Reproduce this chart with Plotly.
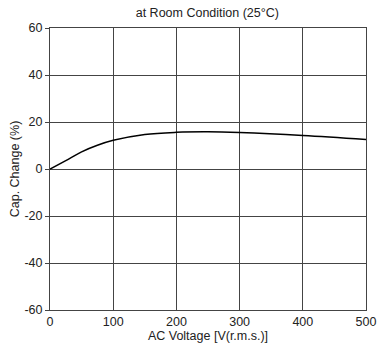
import plotly.graph_objects as go

voltage = [0, 25, 50, 75, 100, 150, 200, 250, 300, 400, 500]
cap_change = [0, 3.6, 7.3, 10.1, 12.2, 14.7, 15.6, 15.8, 15.5, 14.3, 12.6]

x_ticks = [0, 100, 200, 300, 400, 500]
y_ticks = [-60, -40, -20, 0, 20, 40, 60]

fig = go.Figure()
fig.add_trace(go.Scatter(
    x=voltage,
    y=cap_change,
    mode='lines',
    line=dict(color='black', width=1.5, shape='spline', smoothing=1.0),
    showlegend=False
))

fig.update_layout(
    title=dict(text="at Room Condition (25°C)", x=0.55, xanchor='center', y=0.965, yanchor='middle',
               font=dict(size=12.5, color='#222')),
    width=377,
    height=354,
    paper_bgcolor='white',
    plot_bgcolor='white',
    font=dict(family="Liberation Sans, Arial", size=12.5, color='#222'),
    margin=dict(l=50, r=11, t=28, b=44),
    xaxis=dict(
        range=[0, 500], tickvals=x_ticks, showgrid=True, gridcolor='#444', gridwidth=1,
        zeroline=False, showline=True, linecolor='#444', linewidth=1, mirror=True,
        title=dict(text="AC Voltage [V(r.m.s.)]", standoff=2, font=dict(size=12.5)),
        ticks='', fixedrange=True, automargin=False
    ),
    yaxis=dict(
        range=[-60, 60], tickvals=y_ticks, ticktext=[str(v) for v in y_ticks],
        showgrid=True, gridcolor='#444', gridwidth=1,
        zeroline=False, showline=True, linecolor='#444', linewidth=1, mirror=True,
        title=dict(text="Cap. Change (%)", standoff=2, font=dict(size=12.5)),
        ticks='outside', ticklen=4, tickcolor='#444', fixedrange=True, automargin=False
    )
)

# the page opens with the browser's default 8px body margin; drop it
fig.write_html("out.html", config={'displayModeBar': False},
               post_script="document.body.style.margin='0';")
